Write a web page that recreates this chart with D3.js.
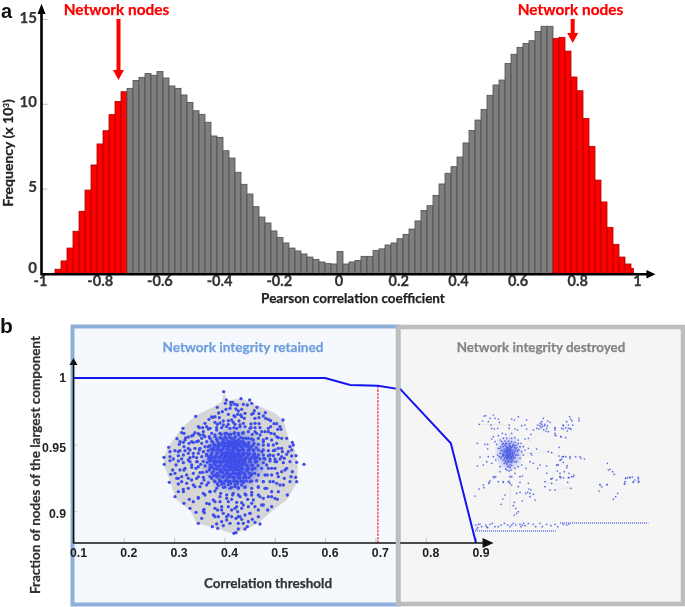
<!DOCTYPE html>
<html><head><meta charset="utf-8">
<script src="https://cdn.jsdelivr.net/npm/d3@7"></script>
<style>
html,body{margin:0;padding:0;background:#fff}
svg{display:block;filter:blur(0.35px)}
text{font-family:Lato,"Open Sans",sans-serif;font-weight:700;stroke:currentColor;stroke-width:0.25}
.ar{font-family:"Liberation Sans",Arial,sans-serif;font-weight:700;stroke-width:0}
</style></head><body><div id="c"></div>
<script>
// ---------- panel a: histogram (frequency x 10^3, bins of 0.02) ----------
const redLeft=[0.24,0.73,1.49,2.48,3.66,4.91,6.39,7.63,8.41,9.36,10.14,10.71];
const greyLeft=[10.91,11.38,11.56,11.79,11.68,11.91,11.52,11.05,10.91,10.52,10.08,9.59,9.38,8.91,8.10,8.02,7.23,6.80,5.96,5.25,4.68,3.93,3.32,2.97,2.50,2.12,1.79,1.49,1.32,1.14,0.96,0.81,0.67,0.57,0.55];
const centre=[1.28];
const greyRight=[0.55,0.67,0.75,1.00,1.00,1.34,1.44,1.67,1.79,2.04,2.30,2.61,3.09,3.70,3.99,4.60,5.27,5.90,6.29,6.86,7.69,8.43,9.04,9.67,10.50,11.11,11.40,12.38,12.92,13.33,13.56,13.72,14.27,14.57,14.57];
const redRight=[13.86,13.92,13.11,11.58,10.77,9.14,7.49,5.50,4.21,2.71,1.71,0.96,0.55,0.29];
const histXTicks=[-1,-0.8,-0.6,-0.4,-0.2,0,0.2,0.4,0.6,0.8,1];
const histYTicks=[0,5,10,15];
// ---------- panel b: integrity curve ----------
const thresholds=[0.1,0.6,0.65,0.705,0.75,0.85,0.9];
const fractions=[1,1,0.9947,0.9942,0.9915,0.951,0.876];
const thresholdTicks=[0.1,0.2,0.3,0.4,0.5,0.6,0.7,0.8,0.9];
const fractionTicks=[1,0.95,0.9];
const cutoff=[0.705,0.9942];
// ---------- network layouts, in layout units of the drawing ----------
const hull=[[192,23],[202,47],[242,40],[290,60],[345,85],[370,105],[388,170],[405,195],[413,245],[410,295],[380,345],[340,375],[295,415],[260,432],[220,447],[160,427],[110,415],[90,375],[50,345],[25,275],[12,240],[12,215],[25,185],[65,130],[105,93],[160,65],[185,50]];
const nodesTL=[[191,20],[199,45],[196,55],[212,52],[218,52],[213,60],[172,67],[210,70],[198,73],[187,80],[176,84],[222,92],[107,94],[155,96],[147,103],[160,97],[178,98],[190,108],[205,107],[215,105],[220,112],[180,114],[172,118],[165,112],[135,115],[140,125],[128,128],[118,128],[69,130],[65,143],[72,145],[105,143],[115,146],[100,150],[95,153],[85,156],[77,159],[51,161],[60,170],[70,172],[58,178],[72,185],[87,175],[120,150],[130,140],[145,132],[155,145],[170,135],[185,128],[200,125],[210,130],[222,128],[135,155],[148,155],[165,150],[180,145],[195,145],[210,148],[222,145],[26,187],[45,197],[60,197],[75,197],[85,190],[100,172],[115,168],[125,175],[140,170],[155,168],[170,162],[185,160],[200,160],[215,160],[105,190],[120,190],[135,185],[150,182],[165,180],[180,175],[195,175],[210,175],[222,172],[30,200],[30,215],[12,217],[55,212],[70,210],[85,205],[100,205],[115,205],[130,200],[145,197],[160,195],[175,190],[190,190],[205,190],[220,188],[40,222],[65,222],[90,218],[110,218],[125,215],[140,212],[155,210],[170,205],[185,205],[200,205],[215,205],[150,222],[165,220],[180,218],[195,218],[210,218],[222,218]];
const nodesTR=[[18,41],[44,45],[50,55],[37,60],[25,58],[7,60],[0,58],[3,72],[20,73],[10,78],[66,67],[30,85],[17,90],[8,88],[0,95],[58,77],[50,88],[72,86],[55,85],[91,83],[85,93],[72,98],[92,100],[100,103],[107,107],[144,105],[117,116],[125,116],[135,125],[138,133],[128,133],[107,125],[28,100],[12,108],[25,115],[15,125],[5,130],[48,117],[60,115],[72,116],[48,128],[60,128],[75,128],[40,140],[25,143],[10,145],[52,148],[65,145],[80,140],[90,140],[100,140],[108,145],[118,147],[130,158],[140,160],[155,160],[172,172],[175,180],[165,185],[170,195],[160,200],[140,190],[125,175],[110,165],[95,160],[85,165],[70,160],[55,165],[40,160],[25,160],[10,165],[0,170],[115,180],[100,180],[85,180],[70,178],[55,180],[40,178],[25,178],[10,180],[130,190],[115,197],[100,197],[85,195],[70,195],[55,195],[40,195],[25,195],[10,197],[142,200],[183,212],[170,213],[155,208],[130,208],[115,212],[100,212],[85,210],[70,210],[55,210],[40,210],[25,210],[10,212],[148,220],[135,222],[120,222],[105,222],[90,222],[75,222],[60,222],[45,222],[30,222],[15,222]];
const nodesBL=[[13,13],[30,2],[55,3],[70,8],[90,5],[110,5],[130,4],[150,3],[170,6],[190,3],[210,5],[38,30],[32,43],[45,40],[60,30],[75,25],[95,22],[115,20],[135,18],[155,18],[175,20],[195,18],[215,20],[28,67],[50,55],[65,50],[80,45],[100,40],[120,38],[140,35],[160,35],[180,35],[200,35],[220,35],[55,72],[65,65],[80,70],[95,60],[110,55],[130,52],[150,50],[170,50],[190,50],[210,50],[45,110],[55,95],[70,88],[85,85],[105,80],[125,70],[145,68],[165,65],[185,65],[205,65],[222,65],[72,130],[88,118],[100,125],[115,112],[130,100],[150,95],[170,85],[190,82],[210,85],[225,80],[90,145],[108,157],[132,148],[148,132],[165,125],[180,110],[200,105],[220,100],[133,158],[125,175],[115,190],[160,165],[173,150],[185,140],[205,125],[215,118],[175,170],[190,160],[205,165],[215,150],[225,145],[170,192],[185,185],[200,180],[215,170],[157,200],[173,205],[190,197],[210,190],[222,220]];
const nodesBR=[[185,7],[207,13],[165,5],[145,8],[125,5],[105,3],[85,8],[65,5],[45,5],[25,4],[8,8],[155,25],[172,35],[182,52],[168,50],[165,65],[185,65],[140,35],[120,25],[100,25],[80,25],[60,25],[40,25],[20,25],[5,28],[130,50],[148,55],[110,45],[90,45],[70,45],[50,42],[30,45],[10,45],[145,75],[157,105],[125,70],[105,65],[85,65],[65,62],[45,65],[25,62],[8,65],[130,95],[110,95],[120,115],[127,118],[90,85],[70,82],[50,85],[30,82],[10,85],[100,110],[85,115],[70,105],[50,105],[30,102],[10,105],[110,140],[98,150],[85,135],[70,150],[55,120],[38,118],[20,128],[5,140],[60,140],[40,140],[20,145],[8,155],[45,160],[30,165],[15,170],[3,175],[70,170],[52,178],[40,185],[25,190],[10,190],[60,187],[75,192],[37,200],[30,207],[10,207],[3,218],[20,178]];
const nodesCore=[[150,160],[158,172],[165,155],[172,168],[180,158],[188,170],[195,155],[203,168],[210,158],[218,170],[226,155],[234,168],[242,158],[250,170],[258,160],[266,172],[274,162],[282,175],[145,185],[153,192],[161,180],[169,195],[177,183],[185,195],[193,182],[201,194],[209,183],[217,195],[225,182],[233,195],[241,183],[249,194],[257,184],[265,196],[273,185],[281,197],[289,188],[140,208],[148,215],[156,203],[164,217],[172,205],[180,216],[188,204],[196,215],[204,205],[212,216],[220,204],[228,215],[236,205],[244,216],[252,205],[260,217],[268,206],[276,217],[284,207],[292,218],[142,232],[150,240],[158,228],[166,240],[174,229],[182,241],[190,230],[198,241],[206,229],[214,240],[222,230],[230,241],[238,229],[246,240],[254,230],[262,241],[270,230],[278,241],[286,231],[294,242],[148,255],[156,264],[164,252],[172,265],[180,253],[188,264],[196,254],[204,265],[212,253],[220,264],[228,254],[236,265],[244,253],[252,264],[260,254],[268,265],[276,254],[284,265],[155,280],[163,288],[171,276],[179,289],[187,277],[195,288],[203,278],[211,289],[219,277],[227,288],[235,278],[243,289],[251,277],[259,288],[267,278],[275,288],[175,302],[185,298],[195,306],[205,299],[215,307],[225,300],[235,307],[245,300],[255,306],[200,145],[212,148],[224,143],[236,149],[248,145],[184,148],[222,176],[214,178],[206,176],[230,188],[222,190],[214,208],[222,210],[206,222],[214,226],[222,222],[230,226],[238,222],[198,228],[214,248],[224,248],[232,250],[206,246],[240,236],[248,226]];
const nodesCoreDense=[[160,190],[175,176],[192,165],[207,150],[222,162],[238,176],[255,176],[270,192],[285,215],[290,230],[280,250],[272,272],[250,292],[232,296],[212,296],[192,296],[172,296],[160,272],[150,248],[146,222],[154,208],[166,228],[178,198],[190,186],[204,175],[218,185],[232,178],[246,186],[260,205],[270,222],[264,248],[256,270],[240,270],[224,276],[208,272],[192,275],[178,272],[170,252],[162,236],[168,212],[180,228],[194,212],[208,198],[220,200],[234,200],[248,206],[256,222],[258,240],[248,252],[236,256],[220,258],[204,256],[190,248],[182,234],[190,220],[202,214],[216,214],[230,208],[242,212],[250,234],[238,244],[224,240],[210,236],[200,236],[226,232],[218,226],[232,234],[212,232],[206,212],[196,204],[226,190],[240,196],[184,210],[176,218],[174,244],[186,258],[198,268],[214,268],[228,266],[244,262],[262,258],[274,240],[280,210],[264,184],[244,170],[200,184],[186,180],[212,170],[230,170],[156,218],[168,184],[156,248],[166,270],[178,284],[200,286],[222,286],[240,280],[258,278]];
const nodesMid=[[110,170],[125,160],[118,195],[100,215],[112,230],[95,240],[108,250],[122,238],[128,262],[115,275],[132,285],[120,305],[140,300],[150,320],[135,330],[165,318],[182,325],[160,345],[180,350],[200,340],[218,330],[240,335],[258,330],[275,322],[295,305],[310,290],[322,270],[335,250],[320,240],[312,220],[330,210],[345,195],[325,180],[310,170],[300,150],[285,140],[270,130],[255,125],[240,120],[225,118],[205,118],[190,120],[170,128],[150,130],[130,150],[305,200],[345,230],[352,265],[340,290],[320,310],[300,335],[275,355],[250,360],[230,352],[205,365],[185,375],[165,370],[140,355],[115,340],[100,300],[85,280],[72,255],[85,225],[90,195],[95,170],[115,125],[165,95],[205,88],[245,95],[285,100],[325,130],[350,155],[365,215],[375,255],[360,300],[335,335],[305,360],[270,385],[235,395],[200,395],[165,395],[130,378],[70,320],[55,280],[48,240],[55,200],[75,165]];
const strongCluster=[[37,115],[45,156],[37,183],[43,58],[53,48],[57,33],[62,32],[70,50],[75,40],[85,30],[90,40],[100,42],[103,52],[148,45],[160,35],[140,42],[133,60],[185,45],[170,62],[180,60],[185,72],[78,60],[80,70],[88,72],[98,70],[112,85],[122,88],[132,70],[150,72],[158,75],[140,85],[85,95],[100,92],[80,102],[90,110],[105,105],[68,118],[68,132],[60,118],[115,100],[125,100],[140,100],[150,98],[160,105],[180,102],[190,100],[198,88],[205,75],[215,70],[225,62],[235,40],[248,48],[255,52],[230,58],[238,62],[228,68],[245,70],[250,80],[270,70],[295,60],[290,70],[270,90],[288,95],[243,78],[215,132],[250,140],[260,143],[295,155],[285,165],[295,172],[280,180],[225,180],[245,183],[218,190],[205,175],[195,170],[183,190],[170,180],[165,160],[180,135],[190,130],[198,145],[200,150],[85,155],[70,155],[65,170],[55,180],[80,175],[105,185],[105,200],[85,215],[72,232],[100,230],[115,232],[130,230],[140,215],[150,190],[165,232],[190,235],[245,205],[258,222],[275,225],[285,215],[295,218],[260,235],[275,180],[110,110],[115,115],[120,108],[125,115],[130,108],[135,115],[140,110],[145,118],[150,112],[155,120],[160,115],[165,125],[108,125],[115,125],[122,122],[128,125],[135,122],[142,125],[148,128],[155,128],[162,135],[112,135],[118,132],[125,132],[130,135],[135,130],[140,135],[145,135],[150,138],[157,140],[105,145],[112,145],[118,142],[122,148],[127,142],[132,145],[137,140],[142,145],[147,145],[152,150],[110,155],[116,152],[120,158],[125,152],[130,155],[135,150],[140,155],[145,152],[150,158],[115,165],[120,168],[125,162],[130,165],[135,160],[140,165],[145,162],[118,175],[125,175],[130,172],[135,178],[140,172],[128,185],[135,188],[140,182],[122,192],[132,198],[138,195],[128,148],[131,150],[134,138],[126,138],[124,144],[129,160],[137,155],[133,168],[143,150],[120,138],[115,148],[100,130],[95,118],[98,150],[92,165],[160,150],[170,140],[175,125],[168,115],[175,150],[155,170],[160,185],[150,205]];
const clusterHeart=[[118,120],[124,128],[132,118],[138,128],[144,122],[152,132],[116,138],[123,140],[129,130],[136,134],[142,140],[148,142],[114,152],[122,156],[127,150],[133,142],[139,148],[146,156],[118,162],[123,170],[128,168],[133,158],[138,162],[143,168],[126,178],[132,184],[137,170],[128,136],[120,150],[131,128],[126,158],[134,152],[141,158],[129,142],[124,135],[135,145],[127,155],[132,135],[137,125],[122,115],[112,118],[105,130],[108,160],[150,122],[158,135],[156,150],[150,170],[108,138],[103,155],[126,195],[218,60],[226,55],[232,64],[240,58],[222,72],[236,74],[247,62],[230,50]];
const eastCluster=[[314,35],[317,42],[321,47],[342,40],[342,47],[305,50],[323,60],[295,62],[310,60],[302,68],[295,72],[310,70],[315,70],[318,73],[307,78],[270,68],[270,75],[270,85],[273,92],[287,95],[302,98],[282,127],[282,153],[292,155],[302,155],[315,155],[332,155],[345,155],[358,162],[290,162],[287,165],[315,160],[348,160],[277,180],[307,182],[305,188],[298,200],[277,198],[285,205],[312,205],[287,218],[327,210],[320,215],[312,218],[308,232],[405,238],[427,238],[427,175],[430,195],[435,193],[443,200],[448,208],[482,220],[488,218],[495,217],[502,216],[520,217],[520,225],[480,230],[510,225],[505,232],[520,232],[478,238]];
const southCluster=[[30,273],[42,252],[55,240],[57,248],[72,235],[75,228],[88,218],[92,215],[115,230],[132,230],[135,215],[165,215],[172,213],[240,230],[240,245],[255,255],[270,255],[258,222],[262,220],[285,215],[310,218],[325,215],[318,250],[140,240],[135,235],[155,265],[165,262],[160,245],[120,270],[113,282],[108,298],[172,288],[192,252],[198,255],[182,265],[188,262],[195,265],[205,268],[210,285],[195,275],[148,292],[145,302],[152,310],[160,320],[155,325],[148,330],[405,240],[410,245],[402,258],[425,240],[458,265],[452,275],[445,283],[480,235],[482,220],[495,218],[505,230],[520,220],[522,230]];
const stripScatter=[[32,360],[38,368],[35,373],[45,357],[50,365],[62,360],[68,368],[75,358],[82,355],[90,365],[100,365],[108,360],[118,355],[128,360],[135,365],[145,355],[152,360],[165,358],[172,360],[180,362],[190,355],[205,358],[212,365],[225,355],[232,365],[245,358],[258,362],[270,358],[278,365],[295,358],[305,360],[312,357],[40,358],[65,365],[140,360],[168,365],[176,355]];
const stripRows=[[30,378,272],[285,354,550]];
const faintEdges=[[[43,58],[133,60]],[[133,60],[135,150]],[[135,150],[245,70]],[[135,150],[250,140]],[[135,150],[135,320]],[[135,150],[72,232]],[[240,230],[318,250]],[[255,255],[318,250]],[[285,165],[258,222]]];

const W=685,H=607;
const svg=d3.select("#c").append("svg").attr("width",W).attr("height",H);
const defs=svg.append("defs");
function radial(id,o0,o1){const g=defs.append("radialGradient").attr("id",id);
 g.append("stop").attr("offset","0%").attr("stop-color","#3f4fe8").attr("stop-opacity",o0);
 g.append("stop").attr("offset","55%").attr("stop-color","#3f4fe8").attr("stop-opacity",o1);
 g.append("stop").attr("offset","100%").attr("stop-color","#3f4fe8").attr("stop-opacity",0);}
radial("core",0.9,0.55);radial("heart",0.55,0.28);
defs.append("clipPath").attr("id","histClip").append("rect").attr("x",0).attr("y",0).attr("width",634).attr("height",H);

// ---------- panel a ----------
const hist=[...redLeft.map(v=>({v,c:"r"})),...greyLeft.map(v=>({v,c:"g"})),...centre.map(v=>({v,c:"g"})),...greyRight.map(v=>({v,c:"g"})),...redRight.map(v=>({v,c:"r"}))];
const xBin=d3.scaleBand().domain(d3.range(hist.length)).range([55,637]).paddingInner(0);
const xA=d3.scaleLinear().domain([-1,1]).range([40,637]);
const yA=d3.scaleLinear().domain([0,15]).range([273.3,19]);
const A=svg.append("g");
A.append("g").attr("clip-path","url(#histClip)").selectAll("rect").data(hist).join("rect")
 .attr("x",(d,i)=>xBin(i)).attr("width",xBin.bandwidth())
 .attr("y",d=>yA(d.v)).attr("height",d=>yA(0)-yA(d.v))
 .attr("fill",d=>d.c==="r"?"#fe0000":"#7f7f7f")
 .attr("stroke",d=>d.c==="r"?"#b00000":"#4f4f4f").attr("stroke-width",0.8);
const yAxisA=A.append("g").attr("transform","translate(41.5,0)").call(d3.axisRight(yA).tickValues(histYTicks).tickSize(6).tickFormat(""));
yAxisA.selectAll(".tick line").attr("stroke","#aaa").attr("stroke-width",0.8);
yAxisA.select(".domain").remove();
A.append("g").selectAll("text").data(histYTicks).join("text").attr("x",37).attr("y",d=>yA(d)+(d===0?-4:d===10?-1:0)).attr("text-anchor","end")
 .attr("dominant-baseline","middle").attr("font-size",15).attr("fill","#333").style("color","#333").text(d=>d);
A.append("line").attr("x1",41.5).attr("x2",41.5).attr("y1",yA(0)+2).attr("y2",yA(15.4)).attr("stroke","#000").attr("stroke-width",2.6);
A.append("path").attr("d",d3.line()([[41.5,yA(15.9)],[37.5,yA(15.3)],[45.5,yA(15.3)]])+"Z").attr("fill","#000");
const xAxisA=A.append("g").attr("transform","translate(0,274.3)").call(d3.axisBottom(xA).tickValues(histXTicks).tickSize(0).tickPadding(1).tickFormat(d=>d));
xAxisA.select(".domain").remove();
xAxisA.selectAll("text").attr("font-size",14.6).attr("fill","#333").style("color","#333").attr("font-family","Lato").attr("font-weight",700);
A.append("line").attr("x1",41).attr("x2",xA(1.035)).attr("y1",274.3).attr("y2",274.3).attr("stroke","#000").attr("stroke-width",2.6);
A.append("path").attr("d",d3.line()([[xA(1.035)+8,274.3],[xA(1.035)-1,270],[xA(1.035)-1,278.6]])+"Z").attr("fill","#000");
A.append("text").attr("x",353).attr("y",303).attr("text-anchor","middle").attr("font-size",13.5).attr("fill","#222").style("color","#222").text("Pearson correlation coefficient");
A.append("text").attr("transform","translate(13,153) rotate(-90)").attr("text-anchor","middle").attr("font-size",14).attr("fill","#222").style("color","#222")
 .html('Frequency (x 10<tspan dy="-4" font-size="8">3</tspan><tspan dy="4">)</tspan>');
const annot=[{x:116.5,t:"Network nodes",ax:118.5,y1:19,y2:80},{x:570.5,t:"Network nodes",ax:572.7,y1:19,y2:43}];
A.selectAll(".nn").data(annot).join("text").attr("x",d=>d.x).attr("y",15).attr("text-anchor","middle").attr("font-size",15.4).attr("fill","#fe0000").style("color","#fe0000").text(d=>d.t);
A.selectAll(".shaft").data(annot).join("path").attr("fill","#fe0000")
 .attr("d",d=>d3.line()([[d.ax-2,d.y1],[d.ax+2,d.y1],[d.ax+2,d.y2-10],[d.ax+5.5,d.y2-10],[d.ax,d.y2],[d.ax-5.5,d.y2-10],[d.ax-2,d.y2-10]])+"Z");
svg.append("text").attr("class","ar").attr("x",1).attr("y",18).attr("font-size",20).attr("fill","#111").text("a");
svg.append("text").attr("class","ar").attr("x",0).attr("y",333).attr("font-size",21).attr("fill","#111").text("b");

// ---------- panel b ----------
const B=svg.append("g");
B.append("rect").attr("x",73).attr("y",327).attr("width",324).attr("height",277).attr("fill","#f5f8fc");
B.append("rect").attr("x",398).attr("y",327).attr("width",285).attr("height",277).attr("fill","#f5f5f5");
B.append("rect").attr("x",72.5).attr("y",326.5).attr("width",326).attr("height",278).attr("fill","none").attr("stroke","#8fb0da").attr("stroke-width",4);

const uL=d3.scaleLinear().domain([0,450]).range([160,310]);
const vL=d3.scaleLinear().domain([0,450]).range([385,535]);
const net=B.append("g");
net.append("path").attr("d",d3.line().x(d=>uL(d[0])).y(d=>vL(d[1])).curve(d3.curveLinearClosed)(hull)).attr("fill","#d6d6d6");
net.append("ellipse").attr("cx",uL(222)).attr("cy",vL(225)).attr("rx",uL(105)-uL(0)).attr("ry",vL(105)-vL(0)).attr("fill","url(#core)");
const leftNodes=[...nodesTL,...nodesTR.map(d=>[d[0]+225,d[1]]),...nodesBL.map(d=>[d[0],d[1]+225]),...nodesBR.map(d=>[d[0]+225,d[1]+225]),...nodesCore,...nodesCoreDense,...nodesMid];
net.selectAll("circle.l").data(leftNodes).join("circle").attr("class","l").attr("cx",d=>uL(d[0])).attr("cy",d=>vL(d[1])).attr("r",1.65).attr("fill","#3d4de9");

const uR=d3.scaleLinear().domain([0,570]).range([465,655]);
const vR=d3.scaleLinear().domain([0,405]).range([405,540]);
B.append("g").selectAll("line").data(faintEdges).join("line").attr("x1",d=>uR(d[0][0])).attr("y1",d=>vR(d[0][1])).attr("x2",d=>uR(d[1][0])).attr("y2",d=>vR(d[1][1])).attr("stroke","#e4e4e4").attr("stroke-width",0.8);
B.append("ellipse").attr("cx",uR(132)).attr("cy",vR(145)).attr("rx",uR(45)-uR(0)).attr("ry",vR(58)-vR(0)).attr("fill","url(#heart)");
const rightNodes=[...strongCluster,...clusterHeart,...eastCluster,...southCluster,...stripScatter];
B.append("g").selectAll("circle").data(rightNodes).join("circle").attr("cx",d=>uR(d[0])).attr("cy",d=>vR(d[1])).attr("r",0.85).attr("fill","#3d55e0").attr("fill-opacity",0.85);
B.append("g").selectAll("line").data(stripRows).join("line").attr("x1",d=>uR(d[0])).attr("x2",d=>uR(d[2])).attr("y1",d=>vR(d[1])).attr("y2",d=>vR(d[1]))
 .attr("stroke","#4a63dd").attr("stroke-opacity",0.8).attr("stroke-width",1.3).attr("stroke-dasharray","1.1 0.9");

const xB=d3.scaleLinear().domain([0.1,0.9]).range([73.5,476]);
const yB=d3.scaleLinear().domain([0.876,1]).range([543,378]);
const gx=B.append("g").attr("transform","translate(0,543)").call(d3.axisTop(xB).tickValues(thresholdTicks).tickSize(5).tickFormat(""));
gx.select(".domain").remove();gx.selectAll("line").attr("stroke","#b5b5b5").attr("stroke-width",0.8);
const gy=B.append("g").attr("transform","translate(73.5,0)").call(d3.axisRight(yB).tickValues(fractionTicks).tickSize(4).tickFormat(""));
gy.select(".domain").remove();gy.selectAll("line").attr("stroke","#c5c5c5").attr("stroke-width",0.8);
B.append("line").attr("x1",xB(cutoff[0])).attr("x2",xB(cutoff[0])).attr("y1",yB(cutoff[1])).attr("y2",543).attr("stroke","#f4474f").attr("stroke-width",1.4).attr("stroke-dasharray","2.6 1");
B.append("path").datum(d3.zip(thresholds,fractions)).attr("fill","none").attr("stroke","#1414ee").attr("stroke-width",2).attr("d",d3.line().x(d=>xB(d[0])).y(d=>yB(d[1])));
B.append("line").attr("x1",73.5).attr("x2",xB(0.915)).attr("y1",543).attr("y2",543).attr("stroke","#111").attr("stroke-width",1.6);
B.append("path").attr("d",d3.line()([[xB(0.915)+10,543],[xB(0.915)-1,538],[xB(0.915)-1,548]])+"Z").attr("fill","#111");
B.append("line").attr("x1",73.5).attr("x2",73.5).attr("y1",543.5).attr("y2",364).attr("stroke","#111").attr("stroke-width",1.6);
B.append("path").attr("d",d3.line()([[73.5,358],[69.5,365],[77.5,365]])+"Z").attr("fill","#111");

// grey frame sits over the curve and the axis
B.append("rect").attr("x",398).attr("y",327).attr("width",285).attr("height",277).attr("fill","none").attr("stroke","#bdbdbd").attr("stroke-width",4.5);

B.append("g").selectAll("text").data(thresholdTicks).join("text").attr("class","ar").attr("x",d=>xB(d)+5).attr("y",557).attr("text-anchor","middle").attr("font-size",12.3).attr("fill","#222").text(d=>d3.format(".1f")(d));
B.append("g").selectAll("text").data(fractionTicks).join("text").attr("class","ar").attr("x",66).attr("y",d=>yB(d)+(d===1?4:7)).attr("text-anchor","end").attr("font-size",12.3).attr("fill","#222").text(d=>d===1?"1":d3.format(".2~f")(d));
B.append("text").attr("x",243).attr("y",352).attr("text-anchor","middle").attr("font-size",13.6).attr("fill","#6f9fdc").style("color","#6f9fdc").text("Network integrity retained");
B.append("text").attr("x",541).attr("y",352).attr("text-anchor","middle").attr("font-size",13.4).attr("fill","#858585").style("color","#858585").text("Network integrity destroyed");
B.append("text").attr("x",268).attr("y",588).attr("text-anchor","middle").attr("font-size",13.5).attr("fill","#333").style("color","#333").text("Correlation threshold");
B.append("text").attr("transform","translate(40,465) rotate(-90)").attr("text-anchor","middle").attr("font-size",13.5).attr("fill","#333").style("color","#333").text("Fraction of nodes of the largest component");
</script></body></html>
